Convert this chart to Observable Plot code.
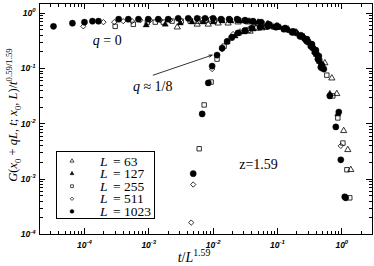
<!DOCTYPE html>
<html><head><meta charset="utf-8">
<script src="https://cdn.jsdelivr.net/npm/d3@7"></script>
<script src="https://cdn.jsdelivr.net/npm/@observablehq/plot@0.6"></script>
<style>html,body{margin:0;padding:0;background:#fff;}</style>
</head><body><div id="chart"></div>
<script>
// ---- data (t/L^1.59, G/t^(0.59/1.59)) ----
const t63 = [2.77e-3,5.65e-3,8.4e-3,1.2e-2,1.71e-2,2.44e-2,3.49e-2,5.0e-2,7.1e-2,0.102,0.146,0.200,0.258,0.319,0.381,0.44,0.545,0.70,0.836,1.07,1.24,1.38, 3.75e-2,5.75e-2,8.8e-2,0.135,0.194,0.258,0.319];
const g63 = [0.56,0.63,0.63,0.66,0.66,0.69,0.69,0.66,0.63,0.58,0.515,0.44,0.37,0.29,0.224,0.161,0.126,0.067,0.035,0.0075,0.0034,0.00148, 0.47,0.54,0.56,0.515,0.455,0.37,0.29];

const t127 = [9.1e-4,1.8e-3,3.08e-3,4.7e-3,7.0e-3,1.0e-2,1.38e-2,1.9e-2,2.62e-2,3.62e-2,5.0e-2,6.9e-2,9.5e-2,0.131,0.180,0.240,0.297,0.355,0.410,0.456,0.507, 1.65e-2,2.19e-2,3.03e-2,4.17e-2,5.75e-2,7.9e-2,0.109,0.151,0.208,0.267,0.331,0.381, 0.652,0.867];
const g127 = [0.61,0.63,0.66,0.69,0.69,0.69,0.72,0.72,0.72,0.72,0.69,0.63,0.58,0.515,0.455,0.385,0.31,0.244,0.182,0.136,0.098, 0.30,0.385,0.455,0.515,0.56,0.58,0.56,0.49,0.42,0.34,0.254,0.198, 0.035,0.0151];

const t255 = [3.0e-4,5.75e-4,9.5e-4,1.26e-3,1.68e-3,2.3e-3,3.19e-3,4.4e-3,5.85e-3,7.8e-3,1.04e-2,1.38e-2,1.84e-2,2.44e-2,3.25e-2,4.3e-2,5.75e-2,7.65e-2,0.102,0.135,0.180,0.240,0.297,0.355,0.410,0.456,0.507,0.585,0.725,0.867,1.04,1.20,1.33, 6.07e-3,7.25e-3,9.3e-3,1.15e-2,1.48e-2,1.9e-2,2.53e-2,3.49e-2,4.8e-2,6.6e-2,9.15e-2,0.126,0.174,0.231,0.287,0.343,0.395,0.44];
const g255 = [0.58,0.63,0.69,0.69,0.69,0.72,0.72,0.72,0.72,0.75,0.75,0.75,0.75,0.75,0.72,0.69,0.66,0.61,0.56,0.515,0.44,0.37,0.30,0.234,0.182,0.136,0.106,0.076,0.032,0.0128,0.0045,0.00148,0.00046, 0.00355,0.022,0.057,0.148,0.254,0.355,0.44,0.49,0.54,0.56,0.56,0.515,0.455,0.385,0.31,0.244,0.182,0.136];

const t511 = [9.6e-5,1.97e-4,2.9e-4,4.0e-4,5.5e-4,7.4e-4,1.05e-3,1.51e-3,2.15e-3,3.08e-3,4.4e-3,6.3e-3,9.0e-3,1.28e-2,1.84e-2,2.62e-2,3.75e-2,5.2e-2,7.1e-2,9.8e-2,0.135,0.187,0.249,0.308,0.368,0.425,0.472, 4.56e-3,4.9e-3,9.65e-3,1.38e-2,2.04e-2,2.62e-2,3.49e-2,4.65e-2,6.2e-2,8.2e-2,0.109,0.146,0.194,0.258,0.319,0.368,0.425,0.472, 0.652,0.965];
const g511 = [0.58,0.69,0.69,0.72,0.72,0.75,0.75,0.75,0.75,0.75,0.78,0.78,0.78,0.78,0.78,0.75,0.72,0.69,0.66,0.61,0.54,0.455,0.385,0.31,0.234,0.175,0.126, 0.000164,0.0008,0.098,0.224,0.42,0.47,0.515,0.56,0.58,0.58,0.56,0.49,0.44,0.355,0.276,0.215,0.161,0.116, 0.032,0.0040];

const t1023 = [3.3e-5,6.5e-5,1.0e-4,1.33e-4,1.65e-4,3.4e-4,4.8e-4,6.9e-4,9.8e-4,1.4e-3,2.0e-3,2.86e-3,4.1e-3,5.65e-3,7.5e-3,1.0e-2,1.33e-2,1.77e-2,2.36e-2,3.13e-2,4.17e-2,5.55e-2,7.4e-2,9.8e-2,0.131,0.174,0.231,0.287,0.343,0.395,0.44,0.49,0.526,0.652,0.898,1.11, 4.9e-3,6.75e-3,8.4e-3,9.65e-3,1.15e-2,1.38e-2,1.65e-2,1.97e-2,2.44e-2,3.13e-2,4.0e-2,5.35e-2,7.1e-2,9.5e-2,0.126,0.168,0.223,0.277,0.331,0.381,0.425,0.472,0.807,0.965,1.15];
const g1023 = [0.58,0.66,0.69,0.72,0.72,0.78,0.78,0.78,0.78,0.78,0.78,0.81,0.81,0.81,0.81,0.81,0.78,0.78,0.78,0.75,0.72,0.69,0.63,0.58,0.54,0.47,0.40,0.34,0.276,0.215,0.168,0.116,0.098,0.032,0.0164,0.00048, 0.00126,0.0151,0.055,0.111,0.175,0.234,0.31,0.37,0.44,0.49,0.54,0.56,0.58,0.56,0.515,0.455,0.385,0.325,0.254,0.198,0.148,0.106,0.0088,0.00224,0.00046];

const sizes = ["63","127","255","511","1023"];
const xMajor = [1e-4,1e-3,1e-2,1e-1,1];
const yMajor = [1e-4,1e-3,1e-2,1e-1,1];
const xMinor = [3e-5,4e-5,5e-5,6e-5,7e-5,8e-5,9e-5,2e-4,3e-4,4e-4,5e-4,6e-4,7e-4,8e-4,9e-4,2e-3,3e-3,4e-3,5e-3,6e-3,7e-3,8e-3,9e-3,2e-2,3e-2,4e-2,5e-2,6e-2,7e-2,8e-2,9e-2,0.2,0.3,0.4,0.5,0.6,0.7,0.8,0.9,2];
const yMinor = [2e-4,3e-4,4e-4,5e-4,6e-4,7e-4,8e-4,9e-4,2e-3,3e-3,4e-3,5e-3,6e-3,7e-3,8e-3,9e-3,2e-2,3e-2,4e-2,5e-2,6e-2,7e-2,8e-2,9e-2,0.2,0.3,0.4,0.5,0.6,0.7,0.8,0.9];

// series styles
const series = [
  {t: t63,   g: g63,   symbol: "triangle", r: 2.3, filled: false},
  {t: t127,  g: g127,  symbol: "triangle", r: 2.3, filled: true},
  {t: t255,  g: g255,  symbol: "square",   r: 2.5, filled: false},
  {t: t511,  g: g511,  symbol: "diamond2", r: 2.4, filled: false},
  {t: t1023, g: g1023, symbol: "circle",   r: 3.1, filled: true}
];

const W = 374, H = 266, mL = 39, mR = 2, mT = 3, mB = 32;
const MAJ = 6, MIN = 3.5;

const fmt = d => "10^" + Math.round(Math.log10(d));

const chart = Plot.plot({
  width: W, height: H,
  marginLeft: mL, marginRight: mR, marginTop: mT, marginBottom: mB,
  style: {background: "white", color: "black", overflow: "visible"},
  x: {type: "log", domain: [2e-5, 3], label: null},
  y: {type: "log", domain: [1e-4, 1.5], label: null},
  marks: [
    Plot.axisX(xMajor, {anchor: "bottom", tickSize: 0, tickPadding: 7, tickFormat: fmt, label: null}),
    Plot.axisY(yMajor, {anchor: "left", tickSize: 0, tickPadding: 4, tickFormat: fmt, label: null}),
    Plot.frame({stroke: "black", strokeWidth: 1}),
    Plot.arrow([{x1: 1.17e-3, y1: 0.076, x2: 9.65e-3, y2: 0.175}],
      {x1: "x1", y1: "y1", x2: "x2", y2: "y2", stroke: "black", strokeWidth: 0.8, headLength: 6, headAngle: 40}),
    ...series.map(s => Plot.dot(s.t, {
      x: s.t, y: s.g, symbol: s.symbol, r: s.r,
      fill: s.filled ? "black" : "none",
      stroke: "black", strokeWidth: s.filled ? 0.4 : 0.8
    }))
  ]
});
document.getElementById("chart").appendChild(chart);

const svg = d3.select(chart);
const sx = chart.scale("x"), sy = chart.scale("y");
const [xL, xR] = sx.range, [yB, yT] = sy.range;

// inward ticks on all four sides, placed through the plot's scales
const tg = svg.append("g").attr("stroke", "black").attr("stroke-width", 1.2)
  .attr("shape-rendering", "crispEdges");
for (const [vals, len] of [[xMajor, MAJ], [xMinor, MIN]]) {
  for (const v of vals) {
    const px = Math.round(sx.apply(v)) + 0.5;
    tg.append("line").attr("x1", px).attr("x2", px).attr("y1", yB).attr("y2", yB - len);
    tg.append("line").attr("x1", px).attr("x2", px).attr("y1", yT).attr("y2", yT + len);
  }
}
for (const [vals, len] of [[yMajor, MAJ], [yMinor, MIN]]) {
  for (const v of vals) {
    const py = Math.round(sy.apply(v)) + 0.5;
    tg.append("line").attr("y1", py).attr("y2", py).attr("x1", xL).attr("x2", xL + len);
    tg.append("line").attr("y1", py).attr("y2", py).attr("x1", xR).attr("x2", xR - len);
  }
}

// tick label styling with superscript exponents
svg.selectAll('g[aria-label$="tick label"]')
  .attr("font-family", "'Liberation Sans', Arial, sans-serif")
  .attr("font-weight", "bold").attr("font-style", "italic").attr("font-size", 8.5);
svg.selectAll('g[aria-label$="tick label"] text').each(function() {
  const s = this.textContent;
  if (!s.includes("^")) return;
  const [base, exp] = s.split("^");
  const el = d3.select(this);
  el.text(base);
  el.append("tspan").attr("dy", -3.5).attr("font-size", 6).text(exp);
});

const serif = "'Liberation Serif', 'Times New Roman', serif";
function mathText(parent, x, y, parts, fs, anchor) {
  const t = parent.append("text").attr("x", x).attr("y", y)
    .attr("font-family", serif).attr("font-size", fs)
    .attr("text-anchor", anchor || "start").attr("fill", "black")
    .attr("font-style", "normal").attr("font-weight", "normal");
  let cur = 0;
  for (const [str, kind] of parts) {
    const shift = kind === "sub" ? 0.3 * fs : kind === "sup" ? -0.42 * fs : 0;
    const sp = t.append("tspan").text(str).attr("dy", shift - cur);
    cur = shift;
    if (kind === "i") sp.attr("font-style", "italic");
    if (kind === "sub" || kind === "sup") sp.attr("font-size", fs * 0.7);
  }
  return t;
}

// annotations
mathText(svg, sx.apply(2.3e-4), sy.apply(0.265), [["q","i"],[" = 0","r"]], 14, "middle");
mathText(svg, sx.apply(1.17e-3), sy.apply(0.0377), [["q","i"],[" \u2248 1/8","r"]], 14, "middle");
mathText(svg, sx.apply(0.0516), sy.apply(1.48e-3), [["z=1.59","r"]], 14, "middle");

// axis titles
mathText(svg, 194, 262, [["t","i"],["/","r"],["L","i"],["1.59","sup"]], 14, "middle");
const yl = svg.append("g").attr("transform", "translate(17,115) rotate(-90)");
mathText(yl, 0, 0, [["G","i"],["(","r"],["x","i"],["0","sub"],[" + ","r"],["qL","i"],[", ","r"],["t","i"],["; ","r"],["x","i"],["0","sub"],[", ","r"],["L","i"],[")/","r"],["t","i"],["0.59/1.59","sup"]], 12.5, "middle");

// legend
const lg = svg.append("g");
lg.append("rect").attr("x", 56.5).attr("y", 151.5).attr("width", 98).attr("height", 67)
  .attr("fill", "white").attr("stroke", "black").attr("stroke-width", 1);
const symMap = {triangle: d3.symbolTriangle, square: d3.symbolSquare, diamond2: d3.symbolDiamond2, circle: d3.symbolCircle};
series.forEach((s, i) => {
  const yy = 161 + i * 12.6;
  lg.append("path").attr("transform", `translate(72,${yy})`)
    .attr("d", d3.symbol(symMap[s.symbol], Math.PI * s.r * s.r * 0.4)())
    .attr("fill", s.filled ? "black" : "none").attr("stroke", "black").attr("stroke-width", s.filled ? 0.4 : 0.7);
  mathText(lg, 100, yy + 4.5, [["L","i"]], 13.5, "start");
  mathText(lg, 113, yy + 4.5, [["= " + sizes[i],"r"]], 13.5, "start");
});
</script></body></html>
